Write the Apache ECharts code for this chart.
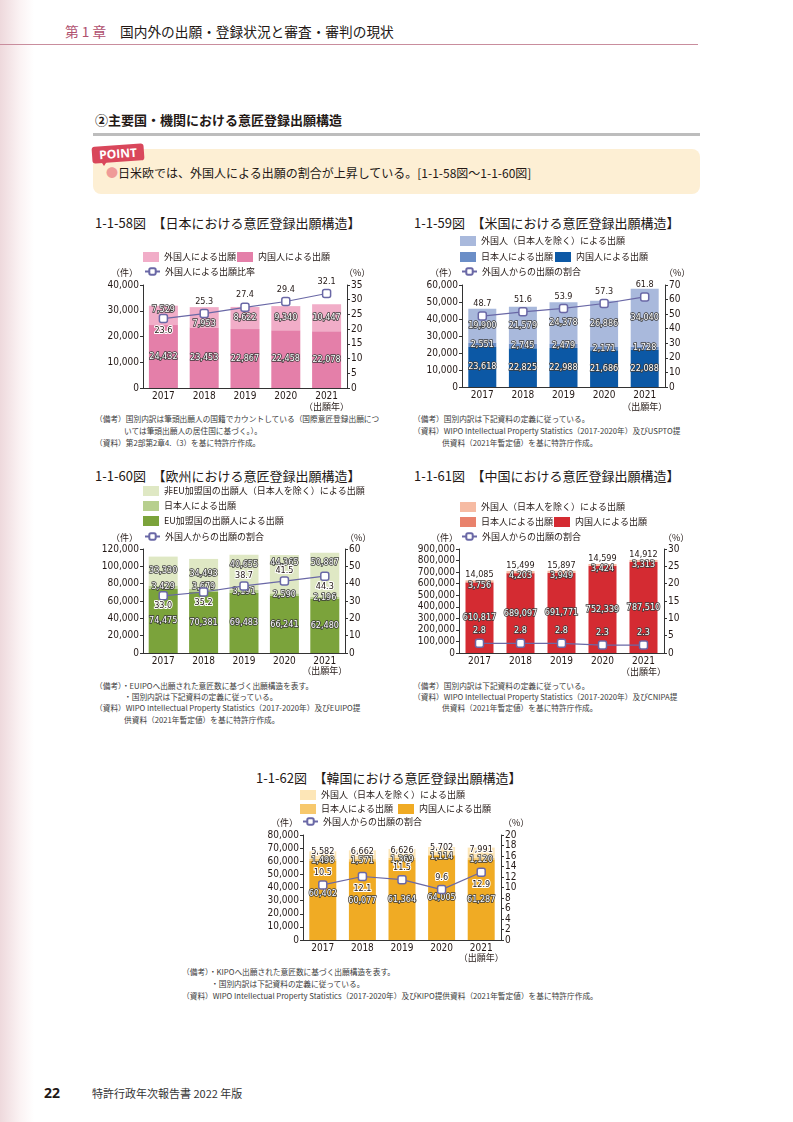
<!DOCTYPE html>
<html><head><meta charset="utf-8">
<script src="https://cdn.jsdelivr.net/npm/echarts@6/dist/echarts.min.js"></script>
<style>
html,body{margin:0;padding:0;width:793px;height:1122px;background:#fff;overflow:hidden;font-family:'Noto Sans CJK JP','Noto Sans',sans-serif;color:#231815;}
.t{position:absolute;white-space:nowrap;}
.fn{position:absolute;white-space:nowrap;font-size:7.7px;line-height:10px;color:#3a3a3a;}
.ct{position:absolute;white-space:nowrap;font-size:13px;line-height:16px;color:#231815;}
.chart{position:absolute;left:0;top:0;width:793px;height:1122px;pointer-events:none;}
</style></head><body>
<div class="t" style="left:0;top:0;width:34px;height:1122px;background:linear-gradient(to right,#eed9dc,#fbf3f4 60%,#ffffff);"></div>
<div class="t" style="left:65px;top:22px;font-size:13.7px;line-height:18px;color:#b0506e;">第 1 章</div>
<div class="t" style="left:120px;top:22px;font-size:13.7px;line-height:18px;">国内外の出願・登録状況と審査・審判の現状</div>
<div class="t" style="left:0;top:44px;width:698px;height:1px;background:#c98d9d;"></div>

<div class="t" style="left:95px;top:111px;font-size:13px;line-height:18px;font-weight:bold;">②主要国・機関における意匠登録出願構造</div>
<div class="t" style="left:93px;top:133px;width:607px;height:3px;background:#bdbdbd;"></div>
<div class="t" style="left:93px;top:149px;width:607px;height:45px;background:#fdefd4;border-radius:8px;"></div>
<div class="t" style="left:92px;top:145px;width:52px;height:17px;background:#d9475b;border-radius:3px;transform:rotate(-4deg);color:#fff;font-weight:bold;font-size:12px;line-height:17px;text-align:center;font-family:'Open Sans','Noto Sans',sans-serif;">POINT</div>
<div class="t" style="left:100px;top:160px;width:0;height:0;border-left:4px solid transparent;border-right:4px solid transparent;border-top:6px solid #d9475b;"></div>
<div class="t" style="left:106px;top:165px;font-size:12px;line-height:16px;"><span style="color:#ef9b98;">●</span>日米欧では、外国人による出願の割合が上昇している。[1-1-58図～1-1-60図]</div>

<div class="ct" style="left:95px;top:215px;">1-1-58図　【日本における意匠登録出願構造】</div>
<div class="ct" style="left:414px;top:215px;">1-1-59図　【米国における意匠登録出願構造】</div>
<div class="ct" style="left:95px;top:468px;">1-1-60図　【欧州における意匠登録出願構造】</div>
<div class="ct" style="left:414px;top:468px;">1-1-61図　【中国における意匠登録出願構造】</div>
<div class="ct" style="left:256px;top:770px;">1-1-62図　【韓国における意匠登録出願構造】</div>

<div class="fn" style="left:95px;top:414px;">（備考）国別内訳は筆頭出願人の国籍でカウントしている（国際意匠登録出願につ</div>
<div class="fn" style="left:124px;top:426px;">いては筆頭出願人の居住国に基づく。）。</div>
<div class="fn" style="left:95px;top:438px;">（資料）第2部第2章4.（3）を基に特許庁作成。</div>

<div class="fn" style="left:413px;top:414px;">（備考）国別内訳は下記資料の定義に従っている。</div>
<div class="fn" style="left:413px;top:426px;">（資料）WIPO Intellectual Property Statistics（2017-2020年）及びUSPTO提</div>
<div class="fn" style="left:442px;top:438px;">供資料（2021年暫定値）を基に特許庁作成。</div>

<div class="fn" style="left:95px;top:681px;">（備考）・EUIPOへ出願された意匠数に基づく出願構造を表す。</div>
<div class="fn" style="left:124px;top:692px;">・国別内訳は下記資料の定義に従っている。</div>
<div class="fn" style="left:95px;top:703px;">（資料）WIPO Intellectual Property Statistics（2017-2020年）及びEUIPO提</div>
<div class="fn" style="left:124px;top:715px;">供資料（2021年暫定値）を基に特許庁作成。</div>

<div class="fn" style="left:413px;top:681px;">（備考）国別内訳は下記資料の定義に従っている。</div>
<div class="fn" style="left:413px;top:692px;">（資料）WIPO Intellectual Property Statistics（2017-2020年）及びCNIPA提</div>
<div class="fn" style="left:442px;top:703px;">供資料（2021年暫定値）を基に特許庁作成。</div>

<div class="fn" style="left:182px;top:967px;">（備考）・KIPOへ出願された意匠数に基づく出願構造を表す。</div>
<div class="fn" style="left:211px;top:979px;">・国別内訳は下記資料の定義に従っている。</div>
<div class="fn" style="left:182px;top:991px;">（資料）WIPO Intellectual Property Statistics（2017-2020年）及びKIPO提供資料（2021年暫定値）を基に特許庁作成。</div>

<div class="t" style="left:44px;top:1084px;font-size:14px;line-height:18px;font-weight:bold;font-family:'Open Sans','Noto Sans',sans-serif;">22</div>
<div class="t" style="left:92px;top:1086px;font-size:11px;line-height:15px;color:#333;">特許行政年次報告書 2022 年版</div>

<div id="c1" class="chart"></div>
<div id="c2" class="chart"></div>
<div id="c3" class="chart"></div>
<div id="c4" class="chart"></div>
<div id="c5" class="chart"></div>

<script>
const years = ['2017', '2018', '2019', '2020', '2021'];
// 1-1-58 Japan
const jpDomestic = [24432, 23453, 22867, 22458, 22078];
const jpForeign = [7529, 7953, 8622, 9340, 10447];
const jpForeignRatio = [23.6, 25.3, 27.4, 29.4, 32.1];
// 1-1-59 US
const usDomestic = [23618, 22825, 22988, 21686, 22088];
const usJapanese = [2551, 2745, 2479, 2171, 1728];
const usForeign = [19900, 21579, 24378, 26886, 34040];
const usForeignRatio = [48.7, 51.6, 53.9, 57.3, 61.8];
// 1-1-60 Europe
const euMember = [74475, 70381, 69483, 66241, 62480];
const euJapanese = [3429, 3679, 3191, 2590, 2196];
const euNonMember = [33330, 34493, 40655, 44365, 50887];
const euForeignRatio = [33.0, 35.2, 38.7, 41.5, 44.3];
// 1-1-61 China
const cnDomestic = [610817, 689097, 691771, 752339, 787510];
const cnJapanese = [3756, 4203, 3949, 3424, 3313];
const cnForeign = [14085, 15499, 15897, 14599, 14912];
const cnForeignRatio = [2.8, 2.8, 2.8, 2.3, 2.3];
// 1-1-62 Korea
const krDomestic = [60402, 60077, 61364, 64005, 61287];
const krJapanese = [1498, 1571, 1369, 1114, 1120];
const krForeign = [5582, 6662, 6626, 5702, 7991];
const krForeignRatio = [10.5, 12.1, 11.5, 9.6, 12.9];

const NUM = "'Liberation Sans Narrow','DejaVu Sans Condensed','Noto Sans CJK JP',sans-serif";
const JP = "'Noto Sans CJK JP','Noto Sans',sans-serif";
const INK = '#231815';
const LINE_COLOR = '#6a68a6';
const fmt = v => Number(v).toLocaleString('en-US');

function makeChart(id, c) {
  const chart = echarts.init(document.getElementById(id), null, {width: 793, height: 1122, renderer: 'canvas'});
  const g = c.grid;
  const catW = g.width / years.length;
  const bars = c.bars.map(b => ({
    name: b.name, type: 'bar', stack: 'total', barWidth: c.barWidth, xAxisIndex: 0, yAxisIndex: 0,
    itemStyle: {color: b.color},
    label: {
      show: true, position: b.pos || 'inside', distance: b.dist == null ? 2 : b.dist,
      formatter: p => fmt(p.value), fontSize: 9, fontFamily: NUM,
      color: b.dark ? INK : '#fff', textBorderColor: b.dark ? '#fff' : '#3a3a3a', textBorderWidth: b.dark ? 2 : 1.5
    },
    data: b.data.map((v, k) => ({value: v, label: {offset: [0, (b.off || [])[k] || 0]}}))
  }));
  const line = {
    name: c.line.name, type: 'line', xAxisIndex: 0, yAxisIndex: 1, z: 5,
    symbol: 'roundRect', symbolSize: 8, showAllSymbol: true,
    lineStyle: {color: LINE_COLOR, width: 1.2},
    itemStyle: {color: '#fff', borderColor: LINE_COLOR, borderWidth: 1.5},
    label: {
      show: true, fontSize: 9, fontFamily: NUM, distance: c.line.dist == null ? 3 : c.line.dist,
      formatter: p => Number(p.value).toFixed(1),
      color: c.line.white ? '#fff' : INK, textBorderColor: c.line.white ? '#3a3a3a' : '#fff', textBorderWidth: c.line.white ? 1.5 : 2
    },
    data: c.line.data.map((v, k) => ({value: v, label: {position: c.line.pos[k]}}))
  };
  const legends = c.legends.map(l => Object.assign({
    data: [l.name], left: l.x, top: l.y - 6, padding: 0, itemGap: 0, selectedMode: false,
    itemWidth: l.line ? 15 : 16, itemHeight: l.line ? 8 : 10,
    textStyle: {fontSize: 9, fontFamily: JP, color: INK}
  }, l.line ? {} : {icon: 'rect'}));
  const txt = (x, y, text, align) => ({type: 'text', x: x, y: y, silent: true,
    style: {text: text, font: '9px ' + JP, fill: INK, align: align || 'left', verticalAlign: 'middle'}});
  const axisStyle = {show: true, lineStyle: {color: '#333', width: 1}};
  chart.setOption({
    animation: false,
    grid: {left: g.left, top: g.top, width: g.width, height: g.height, containLabel: false, outerBoundsMode: 'none'},
    legend: legends,
    xAxis: {type: 'category', data: years, axisLine: axisStyle, axisTick: {show: false},
      axisLabel: {fontSize: 10, fontFamily: NUM, color: INK, margin: 3, interval: 0}},
    yAxis: [
      {type: 'value', min: 0, max: c.yMax, interval: c.yInt, axisLine: axisStyle,
        axisTick: {show: true, length: 3, lineStyle: {color: '#333'}}, splitLine: {show: false},
        axisLabel: {fontSize: 10, fontFamily: NUM, color: INK, margin: 4, formatter: v => fmt(v), hideOverlap: false}},
      {type: 'value', position: 'right', min: 0, max: c.y2Max, interval: c.y2Int, axisLine: axisStyle,
        axisTick: {show: true, length: 3, lineStyle: {color: '#333'}}, splitLine: {show: false},
        axisLabel: {fontSize: 10, fontFamily: NUM, color: INK, margin: 4, hideOverlap: false}}
    ],
    graphic: [
      txt(c.unitL[0], c.unitL[1], '（件）'),
      txt(c.unitR[0], c.unitR[1], '（%）'),
      txt(g.left + catW * 4.5, c.yearNoteY, '（出願年）', 'center')
    ],
    series: bars.concat([line])
  });
}

// 1-1-58
makeChart('c1', {
  grid: {left: 143, top: 285, width: 204, height: 103}, barWidth: 29,
  yMax: 40000, yInt: 10000, y2Max: 35, y2Int: 5,
  bars: [
    {name: '内国人による出願', data: jpDomestic, color: '#e47fa9'},
    {name: '外国人による出願', data: jpForeign, color: '#f1adc8', off: [-6, 6, 0, 0, 0]}
  ],
  line: {name: '外国人による出願比率', data: jpForeignRatio, pos: ['bottom', 'top', 'top', 'top', 'top']},
  legends: [
    {name: '外国人による出願', x: 143, y: 258},
    {name: '内国人による出願', x: 237, y: 258},
    {name: '外国人による出願比率', x: 144, y: 273, line: true}
  ],
  unitL: [111, 273], unitR: [344, 273], yearNoteY: 407
});

// 1-1-59
makeChart('c2', {
  grid: {left: 462, top: 285, width: 203, height: 102}, barWidth: 28,
  yMax: 60000, yInt: 10000, y2Max: 70, y2Int: 10,
  bars: [
    {name: '内国人による出願', data: usDomestic, color: '#0c58a5'},
    {name: '日本人による出願', data: usJapanese, color: '#6b8ec7'},
    {name: '外国人（日本人を除く）による出願', data: usForeign, color: '#a9b9dc'}
  ],
  line: {name: '外国人からの出願の割合', data: usForeignRatio, pos: ['top', 'top', 'top', 'top', 'top']},
  legends: [
    {name: '外国人（日本人を除く）による出願', x: 460, y: 242},
    {name: '日本人による出願', x: 460, y: 258},
    {name: '内国人による出願', x: 555, y: 258},
    {name: '外国人からの出願の割合', x: 461, y: 273, line: true}
  ],
  unitL: [430, 273], unitR: [664, 273], yearNoteY: 407
});

// 1-1-60
makeChart('c3', {
  grid: {left: 143, top: 549, width: 202, height: 104}, barWidth: 29,
  yMax: 120000, yInt: 20000, y2Max: 60, y2Int: 10,
  bars: [
    {name: 'EU加盟国の出願人による出願', data: euMember, color: '#7ba33b'},
    {name: '日本人による出願', data: euJapanese, color: '#b7cf8e', off: [0, -4, 0, 0, 0]},
    {name: '非EU加盟国の出願人（日本人を除く）による出願', data: euNonMember, color: '#dfe8c4', off: [0, 0, -8, -11, -12]}
  ],
  line: {name: '外国人からの出願の割合', data: euForeignRatio, dist: 1, pos: ['bottom', 'bottom', 'top', 'top', 'bottom']},
  legends: [
    {name: '非EU加盟国の出願人（日本人を除く）による出願', x: 143, y: 492},
    {name: '日本人による出願', x: 143, y: 507},
    {name: 'EU加盟国の出願人による出願', x: 143, y: 522},
    {name: '外国人からの出願の割合', x: 144, y: 538, line: true}
  ],
  unitL: [111, 538], unitR: [345, 538], yearNoteY: 671
});

// 1-1-61
makeChart('c4', {
  grid: {left: 459, top: 549, width: 205, height: 104}, barWidth: 28,
  yMax: 900000, yInt: 100000, y2Max: 30, y2Int: 5,
  bars: [
    {name: '内国人による出願', data: cnDomestic, color: '#d42b32'},
    {name: '日本人による出願', data: cnJapanese, color: '#e9826c', off: [3, 3, 3, 3, 3]},
    {name: '外国人（日本人を除く）による出願', data: cnForeign, color: '#f6bba3', pos: 'top', dist: 1, dark: true}
  ],
  line: {name: '外国人からの出願の割合', data: cnForeignRatio, pos: ['top', 'top', 'top', 'top', 'top'], white: true},
  legends: [
    {name: '外国人（日本人を除く）による出願', x: 460, y: 508},
    {name: '日本人による出願', x: 460, y: 523},
    {name: '内国人による出願', x: 554, y: 523},
    {name: '外国人からの出願の割合', x: 461, y: 538, line: true}
  ],
  unitL: [431, 538], unitR: [663, 538], yearNoteY: 672
});

// 1-1-62
makeChart('c5', {
  grid: {left: 303, top: 835, width: 198, height: 105}, barWidth: 27,
  yMax: 80000, yInt: 10000, y2Max: 20, y2Int: 2,
  bars: [
    {name: '内国人による出願', data: krDomestic, color: '#f0ab24', off: [-7, 0, 0, 0, 0]},
    {name: '日本人による出願', data: krJapanese, color: '#f7c86c', off: [1, 1, 1, 1, 1]},
    {name: '外国人（日本人を除く）による出願', data: krForeign, color: '#fde6b7', dark: true, off: [-3, -3, -3, -3, -3]}
  ],
  line: {name: '外国人からの出願の割合', data: krForeignRatio, pos: ['top', 'bottom', 'top', 'top', 'bottom']},
  legends: [
    {name: '外国人（日本人を除く）による出願', x: 300, y: 796},
    {name: '日本人による出願', x: 300, y: 810},
    {name: '内国人による出願', x: 398, y: 810},
    {name: '外国人からの出願の割合', x: 302, y: 823, line: true}
  ],
  unitL: [271, 823], unitR: [503, 823], yearNoteY: 958
});
</script>
</body></html>
